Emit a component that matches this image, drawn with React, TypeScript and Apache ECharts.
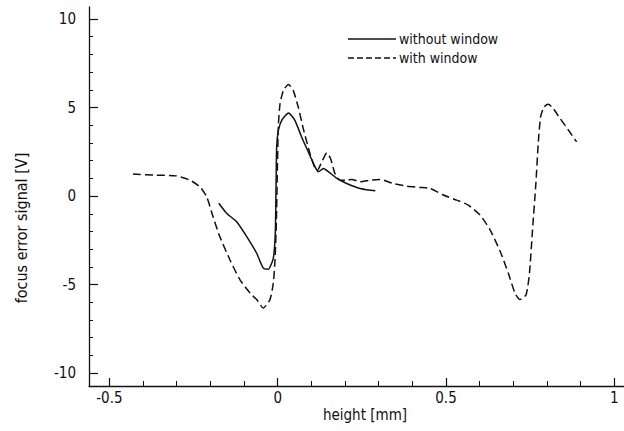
import React, { useEffect, useRef } from "react";
import * as echarts from "echarts";

const xTickLabels = [-0.5, 0, 0.5, 1];
const xMinorTicks = [-0.5, -0.4, -0.3, -0.2, -0.1, 0, 0.1, 0.2, 0.3, 0.4, 0.5, 0.6, 0.7, 0.8, 0.9, 1];
const yTickLabels = [-10, -5, 0, 5, 10];
const yMinorTicks = [-10, -9, -8, -7, -6, -5, -4, -3, -2, -1, 0, 1, 2, 3, 4, 5, 6, 7, 8, 9, 10];

const withoutX = [-0.175, -0.152, -0.122, -0.092, -0.0625, -0.043, -0.028, -0.013, -0.007, -0.005, -0.003, 0.002, 0.012, 0.032, 0.051, 0.071, 0.091, 0.111, 0.121, 0.136, 0.151, 0.176, 0.205, 0.245, 0.29];
const withoutY = [-0.41, -0.97, -1.45, -2.29, -3.23, -4.07, -4.13, -3.51, -2.0, 0.5, 2.8, 3.71, 4.28, 4.69, 4.28, 3.34, 2.49, 1.65, 1.37, 1.56, 1.37, 1.0, 0.71, 0.43, 0.3];

const withX = [-0.43, -0.36, -0.301, -0.261, -0.231, -0.211, -0.192, -0.172, -0.142, -0.112, -0.082, -0.0625, -0.043, -0.023, -0.013, -0.008, -0.004, -0.001, 0.002, 0.007, 0.017, 0.032, 0.046, 0.061, 0.076, 0.096, 0.111, 0.118, 0.131, 0.146, 0.157, 0.17, 0.185, 0.205, 0.22, 0.245, 0.274, 0.304, 0.343, 0.383, 0.422, 0.453, 0.492, 0.532, 0.566, 0.601, 0.631, 0.661, 0.685, 0.705, 0.72, 0.738, 0.748, 0.757, 0.767, 0.774, 0.781, 0.791, 0.804, 0.819, 0.839, 0.864, 0.888];
const withY = [1.24, 1.18, 1.14, 0.9, 0.52, -0.04, -1.17, -2.29, -3.6, -4.73, -5.48, -5.85, -6.32, -5.85, -4.91, -3.6, -1.5, 1.5, 4.0, 5.22, 5.97, 6.3, 5.97, 5.03, 3.81, 2.4, 1.56, 1.46, 1.93, 2.44, 2.12, 1.28, 0.9, 0.9, 0.94, 0.81, 0.9, 0.94, 0.71, 0.56, 0.49, 0.43, 0.06, -0.23, -0.51, -1.07, -1.91, -3.13, -4.35, -5.48, -5.85, -5.57, -4.35, -1.91, 0.71, 2.97, 4.47, 5.03, 5.18, 4.94, 4.38, 3.72, 3.06];

const seriesNames = ["without window", "with window"];
const xTitle = "height [mm]";
const yTitle = "focus error signal [V]";

const FONT = '"DejaVu Sans Condensed", "Liberation Sans Narrow", "Liberation Sans", sans-serif';
const INK = "#111";

const fmt = (v: number) => (v < 0 ? "-" + String(Math.abs(v)) : String(v));

export default function App() {
  const ref = useRef<HTMLDivElement>(null);
  useEffect(() => {
    if (!ref.current) return;
    const chart = echarts.init(ref.current, null, { renderer: "svg" });
    const xMin = -0.5606, xMax = 1.0288, yMin = -10.73, yMax = 10.68;
    const baseX = {
      type: "value" as const,
      min: xMin,
      max: xMax,
      position: "bottom" as const,
      splitLine: { show: false },
    };
    const baseY = {
      type: "value" as const,
      min: yMin,
      max: yMax,
      position: "left" as const,
      splitLine: { show: false },
    };
    chart.setOption({
      animation: false,
      backgroundColor: "#fff",
      grid: { left: 89, right: 0, top: 7, bottom: 45, containLabel: false },
      xAxis: [
        {
          ...baseX,
          axisLine: { show: true, onZero: false, lineStyle: { color: INK, width: 1.3 } },
          axisTick: { show: true, inside: true, length: 8, customValues: xTickLabels, lineStyle: { color: INK, width: 1.2 } },
          axisLabel: { show: true, customValues: xTickLabels, formatter: fmt, color: INK, fontFamily: FONT, fontSize: 15, margin: 4 },
        },
        {
          ...baseX,
          axisLine: { show: false, onZero: false },
          axisTick: { show: true, inside: true, length: 5, customValues: xMinorTicks, lineStyle: { color: INK, width: 1 } },
          axisLabel: { show: false },
        },
      ],
      yAxis: [
        {
          ...baseY,
          axisLine: { show: true, onZero: false, lineStyle: { color: INK, width: 1.3 } },
          axisTick: { show: true, inside: true, length: 9, customValues: yTickLabels, lineStyle: { color: INK, width: 1.2 } },
          axisLabel: { show: true, customValues: yTickLabels, formatter: fmt, color: INK, fontFamily: FONT, fontSize: 15, margin: 13 },
        },
        {
          ...baseY,
          axisLine: { show: false, onZero: false },
          axisTick: { show: true, inside: true, length: 4, customValues: yMinorTicks, lineStyle: { color: INK, width: 1 } },
          axisLabel: { show: false },
        },
      ],
      series: [
        {
          name: seriesNames[0],
          type: "line",
          xAxisIndex: 0,
          yAxisIndex: 0,
          data: withoutX.map((x, i) => [x, withoutY[i]]),
          showSymbol: false,
          smooth: 0.2,
          lineStyle: { color: INK, width: 1.5, type: "solid" },
        },
        {
          name: seriesNames[1],
          type: "line",
          xAxisIndex: 0,
          yAxisIndex: 0,
          data: withX.map((x, i) => [x, withY[i]]),
          showSymbol: false,
          smooth: 0.2,
          lineStyle: { color: INK, width: 1.5, type: [8, 4] },
        },
      ],
      graphic: [
        { type: "line", shape: { x1: 348, y1: 39, x2: 396, y2: 39 }, style: { stroke: INK, lineWidth: 1.4 } },
        { type: "text", x: 399, y: 39, style: { text: seriesNames[0], font: `14px ${FONT}`, fill: INK, verticalAlign: "middle", align: "left" } },
        { type: "line", shape: { x1: 348, y1: 58, x2: 396, y2: 58 }, style: { stroke: INK, lineWidth: 1.4, lineDash: [6, 3] } },
        { type: "text", x: 399, y: 58, style: { text: seriesNames[1], font: `14px ${FONT}`, fill: INK, verticalAlign: "middle", align: "left" } },
        { type: "text", x: 365, y: 415, style: { text: xTitle, font: `15px ${FONT}`, fill: INK, verticalAlign: "middle", align: "center" } },
        { type: "text", x: 21, y: 228, rotation: Math.PI / 2, style: { text: yTitle, font: `16px ${FONT}`, fill: INK, verticalAlign: "middle", align: "center" } },
      ],
    });
    return () => chart.dispose();
  }, []);
  return <div ref={ref} style={{ width: 624, height: 431, position: "absolute", left: 0, top: 0 }} />;
}
